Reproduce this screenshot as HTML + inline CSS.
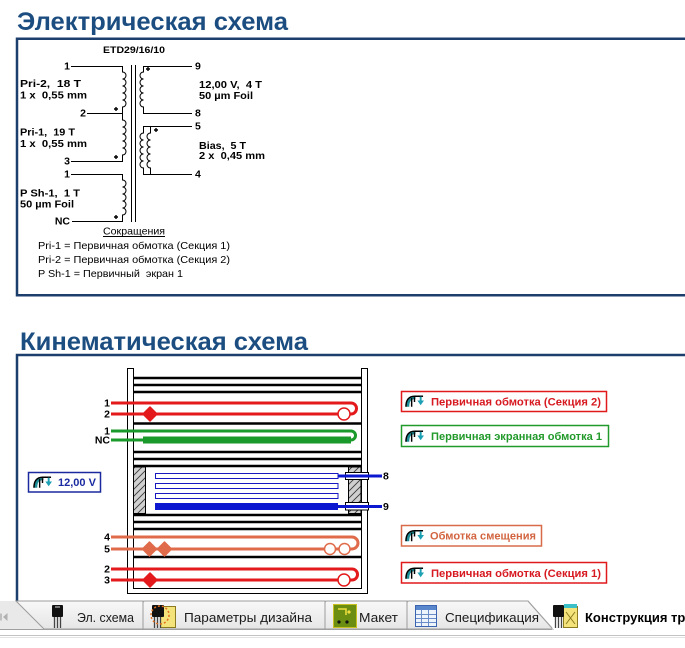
<!DOCTYPE html>
<html><head><meta charset="utf-8">
<style>
html,body{margin:0;padding:0;background:#fff;width:685px;height:648px;overflow:hidden}
svg{display:block}
text{font-family:"Liberation Sans",Arial,sans-serif;white-space:pre}
.b{font-weight:bold}
</style></head><body>
<svg width="685" height="648" viewBox="0 0 685 648" xmlns="http://www.w3.org/2000/svg">
<defs>
<pattern id="hatch" width="7" height="7" patternUnits="userSpaceOnUse">
<rect width="7" height="7" fill="#d0d0d0"/>
<path d="M-1,8 L8,-1 M-1,1 L1,-1 M6,8 L8,6" stroke="#3a3a3a" stroke-width="0.9"/>
</pattern>
<linearGradient id="tabg" x1="0" y1="0" x2="0" y2="1">
<stop offset="0" stop-color="#f8f8f8"/><stop offset="1" stop-color="#e6e6e6"/>
</linearGradient>
<symbol id="ic" viewBox="0 0 20 12">
<path d="M3,12 C3,6 5,2.5 11,2.5" stroke="#1c8c96" stroke-width="3" fill="none"/>
<path d="M1,12 C1,5 4,1 10,1 H19" stroke="#000" stroke-width="1.6" fill="none"/>
<path d="M7,3 V12 M10,2 V7" stroke="#000" stroke-width="1.5"/>
<path d="M13,5.5 H20 L16.5,10.5 Z" fill="#1ca0b4"/>
<path d="M16.5,1.5 V6" stroke="#1ca0b4" stroke-width="2"/>
</symbol>
</defs>

<!-- Titles -->
<text x="17" y="30" class="b" font-size="25" fill="#1c4d80" textLength="271" lengthAdjust="spacingAndGlyphs">Электрическая схема</text>
<text x="20" y="350" class="b" font-size="25" fill="#1c4d80" textLength="288" lengthAdjust="spacingAndGlyphs">Кинематическая схема</text>

<!-- Frames -->
<path d="M686,38.8 H17 V295.3 H686" stroke="#1b3e6c" stroke-width="2.5" fill="none"/>
<path d="M686,355 H17 V601" stroke="#1b3e6c" stroke-width="2.5" fill="none"/>

<!-- ===== Electrical schematic ===== -->
<text x="103" y="53" class="b" font-size="9" textLength="62" lengthAdjust="spacingAndGlyphs">ETD29/16/10</text>
<g stroke="#000" stroke-width="1" fill="none">
<path d="M71,66.5 H122.5 V72 a3.5,3.5 0 0 1 0,7 a3.5,3.5 0 0 1 0,7 a3.5,3.5 0 0 1 0,7 a3.5,3.5 0 0 1 0,7 a3.5,3.5 0 0 1 0,7 V113.5"/>
<path d="M87,113.5 H122.5"/>
<path d="M122.5,113.5 V120 a3.5,3.5 0 0 1 0,7 a3.5,3.5 0 0 1 0,7 a3.5,3.5 0 0 1 0,7 a3.5,3.5 0 0 1 0,7 a3.5,3.5 0 0 1 0,7 V161.5 H71"/>
<path d="M71,174.5 H122.5 V180 a3.5,3.5 0 0 1 0,7 a3.5,3.5 0 0 1 0,7 a3.5,3.5 0 0 1 0,7 a3.5,3.5 0 0 1 0,7 a3.5,3.5 0 0 1 0,7 V221.5 H72"/>
<path d="M131.5,65 V222 M135.5,65 V222"/>
<path d="M192,66.5 H143.5 V72 a3.5,3.5 0 0 0 0,7 a3.5,3.5 0 0 0 0,7 a3.5,3.5 0 0 0 0,7 a3.5,3.5 0 0 0 0,7 a3.5,3.5 0 0 0 0,7 V113.5 H192"/>
<path d="M192,126.5 H143.5 V133 a3.5,3.5 0 0 0 0,7 a3.5,3.5 0 0 0 0,7 a3.5,3.5 0 0 0 0,7 a3.5,3.5 0 0 0 0,7 a3.5,3.5 0 0 0 0,7 V174.5 H192"/>
<path d="M150.5,126.5 V133 a3.5,3.5 0 0 0 0,7 a3.5,3.5 0 0 0 0,7 a3.5,3.5 0 0 0 0,7 a3.5,3.5 0 0 0 0,7 a3.5,3.5 0 0 0 0,7 V174.5"/>
</g>
<g stroke="#000" stroke-width="1.4">
<path d="M114,109h4M116,107v4"/>
<path d="M114,157h4M116,155v4"/>
<path d="M114,217h4M116,215v4"/>
<path d="M146,69h4M148,67v4"/>
<path d="M154,130h4M156,128v4"/>
</g>
<g class="b" font-size="10.5">
<text x="70" y="69.5" text-anchor="end">1</text>
<text x="86" y="116.5" text-anchor="end">2</text>
<text x="70" y="164.5" text-anchor="end">3</text>
<text x="70" y="177.5" text-anchor="end">1</text>
<text x="70" y="224.5" text-anchor="end">NC</text>
<text x="20" y="87" textLength="61" lengthAdjust="spacingAndGlyphs">Pri-2,  18 T</text>
<text x="20" y="98.5" textLength="67" lengthAdjust="spacingAndGlyphs">1 x  0,55 mm</text>
<text x="20" y="135.5" textLength="55" lengthAdjust="spacingAndGlyphs">Pri-1,  19 T</text>
<text x="20" y="147" textLength="67" lengthAdjust="spacingAndGlyphs">1 x  0,55 mm</text>
<text x="20" y="196.5" textLength="60" lengthAdjust="spacingAndGlyphs">P Sh-1,  1 T</text>
<text x="20" y="207.5" textLength="54" lengthAdjust="spacingAndGlyphs">50 µm Foil</text>
<text x="195" y="69.5">9</text>
<text x="195" y="116.5">8</text>
<text x="195" y="129.5">5</text>
<text x="195" y="177.5">4</text>
<text x="199" y="88" textLength="63" lengthAdjust="spacingAndGlyphs">12,00 V,  4 T</text>
<text x="199" y="99" textLength="54" lengthAdjust="spacingAndGlyphs">50 µm Foil</text>
<text x="199" y="149" textLength="47" lengthAdjust="spacingAndGlyphs">Bias,  5 T</text>
<text x="199" y="159" textLength="66" lengthAdjust="spacingAndGlyphs">2 x  0,45 mm</text>
</g>
<text x="103" y="234.5" font-size="10.5" textLength="62" lengthAdjust="spacingAndGlyphs">Сокращения</text>
<path d="M103,236.5 H165" stroke="#000" stroke-width="1"/>
<text x="38" y="249" font-size="10.5" textLength="192" lengthAdjust="spacingAndGlyphs">Pri-1 = Первичная обмотка (Секция 1)</text>
<text x="38" y="263" font-size="10.5" textLength="192" lengthAdjust="spacingAndGlyphs">Pri-2 = Первичная обмотка (Секция 2)</text>
<text x="38" y="277" font-size="10.5" textLength="145" lengthAdjust="spacingAndGlyphs">P Sh-1 = Первичный  экран 1</text>

<!-- ===== Kinematic diagram ===== -->
<path d="M127.5,368.5 V593.5 H367.5 V368.5 H361.5 V588.5 H133.5 V368.5 Z" fill="#fff" stroke="#000" stroke-width="1"/>
<path d="M133,378H361M133,385H361M133,392H361M133,423.5H361M133,452H361M133,459H361M133,466H361M133,515H361M133,522H361M133,529H361M133,557H361" stroke="#000" stroke-width="2.6"/>

<!-- red top -->
<g stroke="#e3191b" stroke-width="3" fill="none">
<path d="M111,403 H351 A5.5,5.5 0 0 1 351,414 H350"/>
<path d="M111,414 H338"/>
</g>
<circle cx="344" cy="414" r="6" fill="#fff" stroke="#e3191b" stroke-width="1.5"/>
<polygon points="150,407 157,414 150,421 143,414" fill="#e3191b" stroke="#e3191b" stroke-width="1.5" stroke-linejoin="round"/>

<!-- green -->
<g stroke="#1a9a2a" stroke-width="3" fill="none">
<path d="M111,431 H351 A4.5,4.5 0 0 1 351,440"/>
<path d="M111,440 H144"/>
</g>
<rect x="143" y="436.5" width="208" height="7" fill="#1a9a2a"/>

<!-- core -->
<rect x="133.5" y="467" width="12" height="46.5" fill="url(#hatch)" stroke="#000" stroke-width="1"/>
<rect x="348.5" y="467" width="12.5" height="46.5" fill="url(#hatch)" stroke="#000" stroke-width="1"/>
<g fill="#fff" stroke="#1818c0" stroke-width="1">
<rect x="155.5" y="473.5" width="182.5" height="5"/>
<rect x="155.5" y="483.5" width="182.5" height="5"/>
<rect x="155.5" y="493.5" width="182.5" height="5"/>
</g>
<rect x="155" y="503" width="183" height="7" fill="#0c18d0"/>
<rect x="345.5" y="472.5" width="23" height="7" fill="#fff" stroke="#000" stroke-width="1"/>
<rect x="345.5" y="502.5" width="23" height="7.5" fill="#fff" stroke="#000" stroke-width="1"/>
<path d="M338,476 H382 M338,506.5 H382" stroke="#0c18d0" stroke-width="3"/>
<text x="383" y="479.5" class="b" font-size="10.5">8</text>
<text x="383" y="510" class="b" font-size="10.5">9</text>

<!-- orange -->
<g stroke="#e06b4a" stroke-width="3" fill="none">
<path d="M111,537 H352 A6,6 0 0 1 352,549 H350"/>
<path d="M111,549 H324.5"/>
<path d="M335.5,549 H339"/>
</g>
<circle cx="330" cy="549" r="5.5" fill="#fff" stroke="#e06b4a" stroke-width="1.5"/>
<circle cx="344.5" cy="549" r="5.5" fill="#fff" stroke="#e06b4a" stroke-width="1.5"/>
<polygon points="149.5,542 156.5,549 149.5,556 142.5,549" fill="#e06b4a" stroke="#e06b4a" stroke-width="1.5" stroke-linejoin="round"/>
<polygon points="164.5,542 171.5,549 164.5,556 157.5,549" fill="#e06b4a" stroke="#e06b4a" stroke-width="1.5" stroke-linejoin="round"/>

<!-- red bottom -->
<g stroke="#e3191b" stroke-width="3" fill="none">
<path d="M111,569 H352 A5.5,5.5 0 0 1 352,580 H350"/>
<path d="M111,580 H338"/>
</g>
<circle cx="344" cy="580" r="6" fill="#fff" stroke="#e3191b" stroke-width="1.5"/>
<polygon points="150,573 157,580 150,587 143,580" fill="#e3191b" stroke="#e3191b" stroke-width="1.5" stroke-linejoin="round"/>

<!-- pin labels -->
<g class="b" font-size="10.5" text-anchor="end">
<text x="110" y="406.5">1</text>
<text x="110" y="417.5">2</text>
<text x="110" y="434.5">1</text>
<text x="110" y="443.5">NC</text>
<text x="110" y="540.5">4</text>
<text x="110" y="552.5">5</text>
<text x="110" y="572.5">2</text>
<text x="110" y="583.5">3</text>
</g>

<!-- right boxes -->
<rect x="401.5" y="391.5" width="205" height="20" fill="#fff" stroke="#e0191b" stroke-width="1.5"/>
<use href="#ic" x="405" y="395" width="19" height="12"/>
<text x="431" y="405.5" class="b" font-size="11" fill="#d71920" textLength="170" lengthAdjust="spacingAndGlyphs">Первичная обмотка (Секция 2)</text>

<rect x="401.5" y="425.5" width="207" height="21" fill="#fff" stroke="#229a2b" stroke-width="1.5"/>
<use href="#ic" x="405" y="430" width="19" height="12"/>
<text x="431" y="440" class="b" font-size="11" fill="#229a2b" textLength="171" lengthAdjust="spacingAndGlyphs">Первичная экранная обмотка 1</text>

<rect x="401.5" y="525.5" width="140" height="20.5" fill="#fff" stroke="#d86a4a" stroke-width="1.5"/>
<use href="#ic" x="405" y="529.5" width="19" height="12"/>
<text x="430" y="539.5" class="b" font-size="11" fill="#d2643f" textLength="106" lengthAdjust="spacingAndGlyphs">Обмотка смещения</text>

<rect x="401.5" y="562.5" width="205" height="20.5" fill="#fff" stroke="#e0191b" stroke-width="1.5"/>
<use href="#ic" x="405" y="567" width="19" height="12"/>
<text x="431" y="577" class="b" font-size="11" fill="#d71920" textLength="170" lengthAdjust="spacingAndGlyphs">Первичная обмотка (Секция 1)</text>

<!-- left box -->
<rect x="28.5" y="472.5" width="72" height="19.5" fill="#fff" stroke="#1a2a9e" stroke-width="1.5"/>
<use href="#ic" x="33" y="476" width="19" height="12"/>
<text x="58" y="486" class="b" font-size="11" fill="#1a2aa0">12,00 V</text>

<!-- ===== Tabs ===== -->
<rect x="0" y="601" width="685" height="28" fill="#e9e9e9"/>
<path d="M1,613.5 V620.5" stroke="#b0b0b0" stroke-width="1.5"/>
<path d="M7.5,613 L3,617 L7.5,621 Z" fill="#b0b0b0"/>
<g stroke="#9c9c9c" stroke-width="1">
<path d="M16,601 L44,629 H143 V601 Z" fill="url(#tabg)"/>
<path d="M143,629 V603 Q143,601 145,601 H325 V629 Z" fill="url(#tabg)"/>
<path d="M325,629 V603 Q325,601 327,601 H407 V629 Z" fill="url(#tabg)"/>
<path d="M407,629 V603 Q407,601 409,601 H528 L553,629 Z" fill="url(#tabg)"/>
</g>
<path d="M528,601 L553,629 H686 V601 Z" fill="#fff"/>
<path d="M528,601 L552,628" stroke="#9c9c9c" stroke-width="1"/>
<path d="M0,629.5 H552" stroke="#a0a0a0" stroke-width="1"/>
<path d="M0,635.5 H685" stroke="#c4c4c4" stroke-width="1"/>
<path d="M0,637.5 H685" stroke="#e4e4e4" stroke-width="1"/>

<!-- tab icons -->
<g>
<rect x="52" y="605" width="11" height="12" rx="1" fill="#111"/>
<rect x="55" y="606" width="5" height="2" fill="#777"/>
<path d="M54.5,617 V628 M57.5,617 V628 M60.5,617 V628" stroke="#444" stroke-width="1.3"/>
</g>
<g>
<rect x="160.5" y="606.5" width="15" height="21" fill="#f4e37a" stroke="#8a7a20"/>
<rect x="152" y="605" width="12" height="12" rx="1" fill="#111"/>
<path d="M154.5,617 V628 M157.5,617 V628 M160.5,617 V628" stroke="#444" stroke-width="1.3"/>
<circle cx="160" cy="615" r="9" fill="none" stroke="#e07020" stroke-width="1.5" stroke-dasharray="2,2"/>
</g>
<g>
<rect x="333.5" y="604.5" width="23" height="23" fill="#6b8e12" stroke="#c8c020"/>
<circle cx="339" cy="622" r="1.6" fill="#111"/>
<circle cx="349" cy="612" r="1.6" fill="#f0e040"/>
<circle cx="347" cy="622" r="1.6" fill="#111"/>
<path d="M338,609 H346 V615" stroke="#f0e040" stroke-width="1.5" fill="none"/>
</g>
<g>
<rect x="415.5" y="605.5" width="21" height="21" fill="#eef4fc" stroke="#3a64b0"/>
<rect x="416" y="606" width="20" height="4" fill="#5a86cc"/>
<path d="M416,614.5 H436 M416,618.5 H436 M416,622.5 H436 M421.5,610 V626 M428.5,610 V626" stroke="#6a8cc8" stroke-width="1"/>
</g>
<g>
<rect x="563.5" y="606.5" width="14" height="21" fill="#f4e37a" stroke="#8a7a20"/>
<rect x="564" y="604" width="13" height="4" fill="#3cc0c8"/>
<path d="M566,612 L575,624 M575,612 L566,624" stroke="#8a7a20" stroke-width="1"/>
<rect x="553" y="605" width="11" height="12" rx="1" fill="#111"/>
<path d="M555.5,617 V628 M558.5,617 V628 M561.5,617 V628" stroke="#444" stroke-width="1.3"/>
</g>

<g font-size="13" fill="#1a1a1a">
<text x="77" y="622" textLength="57" lengthAdjust="spacingAndGlyphs">Эл. схема</text>
<text x="184" y="622" textLength="128" lengthAdjust="spacingAndGlyphs">Параметры дизайна</text>
<text x="359" y="622" textLength="39" lengthAdjust="spacingAndGlyphs">Макет</text>
<text x="445" y="622" textLength="94" lengthAdjust="spacingAndGlyphs">Спецификация</text>
<text x="585" y="622" class="b" fill="#000">Конструкция трансформатора</text>
</g>
</svg>
</body></html>
